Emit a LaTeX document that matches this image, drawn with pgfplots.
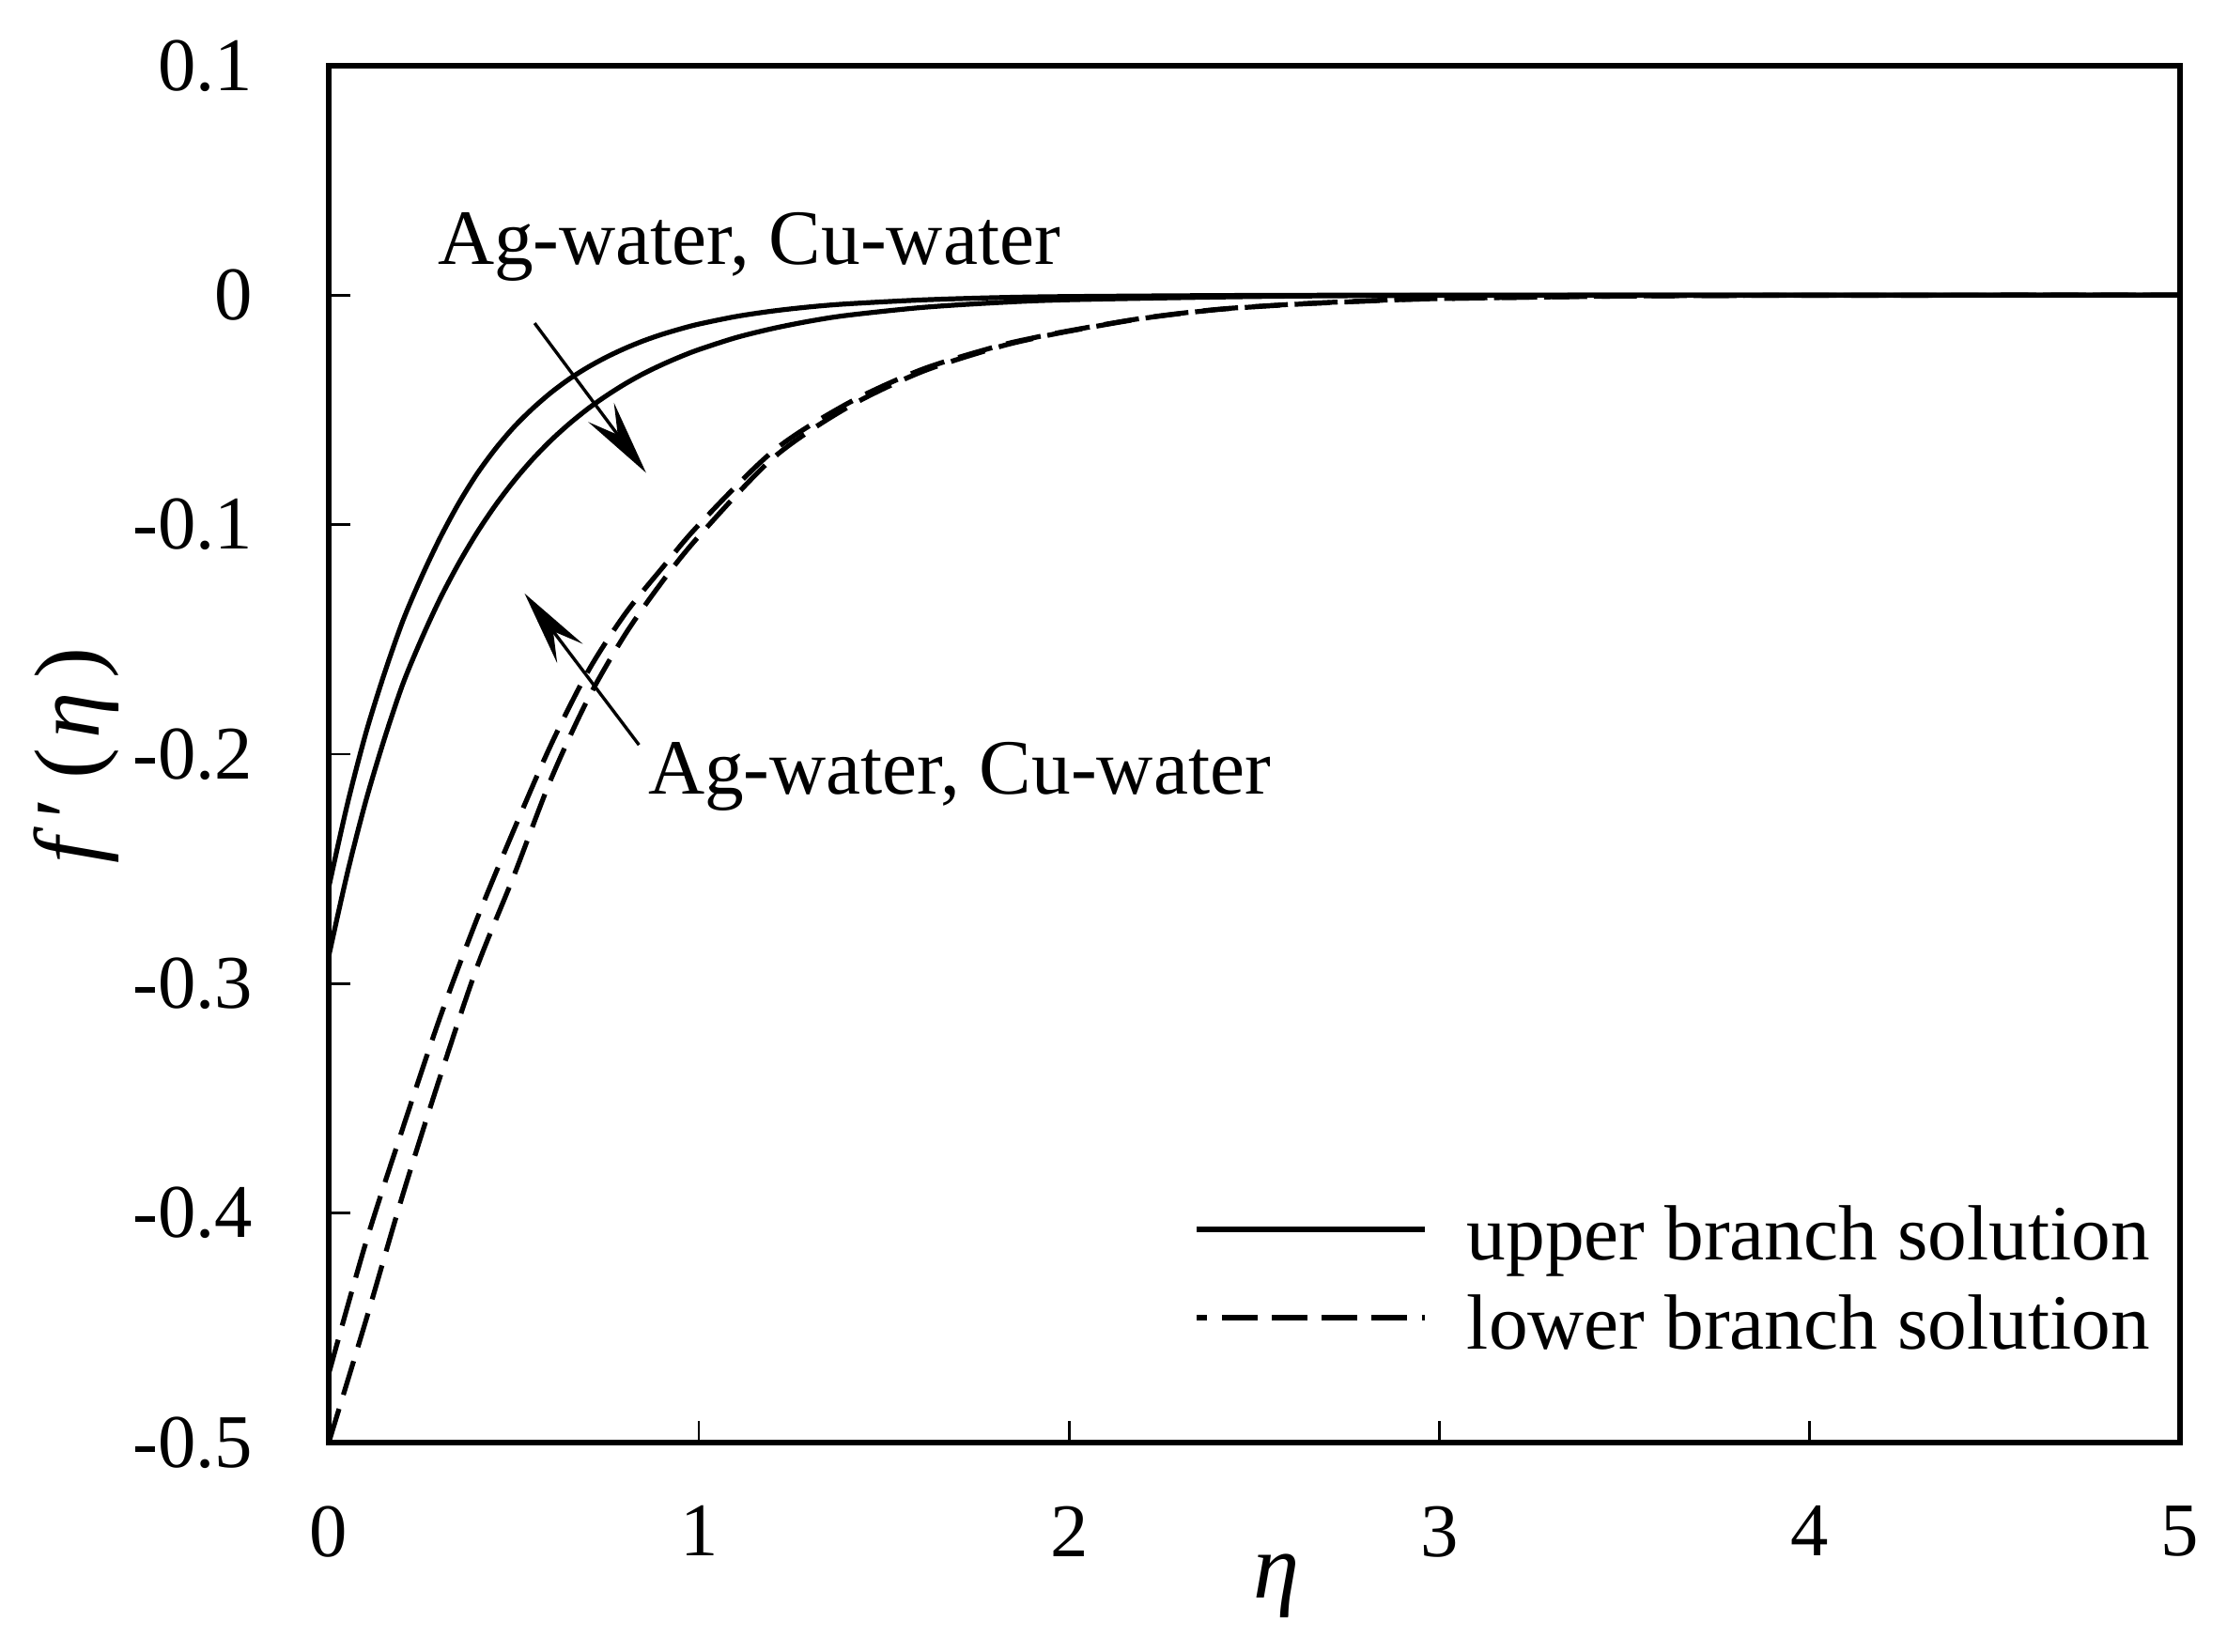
\documentclass[border=0pt]{standalone}
\usepackage{fontspec}
\setmainfont{Liberation Serif}
\usepackage{pgfplots}
\usepackage{pgfplotstable}
\pgfplotsset{compat=1.18}
\usetikzlibrary{arrows.meta}

% upper branch, first nanofluid
\pgfplotstableread{
eta f
0    -0.258
0.05 -0.222
0.10 -0.191
0.15 -0.165
0.20 -0.142
0.25 -0.123
0.30 -0.106
0.35 -0.091
0.40 -0.078
0.45 -0.067
0.50 -0.0575
0.55 -0.0495
0.60 -0.0425
0.65 -0.0365
0.70 -0.0314
0.75 -0.0270
0.80 -0.0232
0.85 -0.0199
0.90 -0.0171
0.95 -0.0147
1.00 -0.0126
1.1  -0.0093
1.2  -0.0069
1.3  -0.0051
1.4  -0.0038
1.6  -0.0021
1.8  -0.0011
2.0  -0.0006
2.5  -0.0001
3.0  0
4.0  0
5.0  0
}\upperA

% upper branch, second nanofluid
\pgfplotstableread{
eta f
0    -0.288
0.05 -0.252
0.10 -0.2205
0.15 -0.1935
0.20 -0.1695
0.25 -0.150
0.30 -0.1325
0.35 -0.1172
0.40 -0.1036
0.45 -0.0916
0.50 -0.0810
0.55 -0.0716
0.60 -0.0633
0.65 -0.0560
0.70 -0.0495
0.75 -0.0438
0.80 -0.0387
0.85 -0.0342
0.90 -0.0303
0.95 -0.0268
1.00 -0.0237
1.1  -0.0185
1.2  -0.0145
1.3  -0.0113
1.4  -0.0088
1.6  -0.0054
1.8  -0.0033
2.0  -0.0020
2.5  -0.0006
3.0  -0.0001
4.0  0
5.0  0
}\upperB

% lower branch, first nanofluid
\pgfplotstableread{
eta f
0    -0.470
0.1  -0.413
0.2  -0.363
0.3  -0.315
0.4  -0.272
0.5  -0.233
0.6  -0.196
0.7  -0.164
0.8  -0.139
0.9  -0.119
1.0  -0.100
1.2  -0.068
1.4  -0.0473
1.6  -0.0325
1.8  -0.0225
1.9  -0.0187
2.0  -0.0155
2.2  -0.0100
2.4  -0.0062
2.6  -0.0040
2.8  -0.0025
3.0  -0.0015
3.5  -0.0004
4.0  -0.0001
5.0  0
}\lowerA

% lower branch, second nanofluid
\pgfplotstableread{
eta f
0    -0.500
0.1  -0.447
0.2  -0.392
0.3  -0.341
0.4  -0.293
0.5  -0.253
0.6  -0.211
0.7  -0.176
0.8  -0.148
0.9  -0.125
1.0  -0.105
1.2  -0.071
1.4  -0.049
1.6  -0.0335
1.8  -0.0230
1.9  -0.0190
2.0  -0.0157
2.2  -0.0101
2.4  -0.0063
2.6  -0.0041
2.8  -0.0026
3.0  -0.0015
3.5  -0.0004
4.0  -0.0001
5.0  0
}\lowerB

\begin{document}
\begin{tikzpicture}[font=\fontsize{16}{19}\selectfont]
\useasboundingbox (-2.362,-1.505) rectangle (13.638,10.365);
\begin{axis}[
    at={(0,0)}, anchor=south west,
    scale only axis,
    width=13.30cm, height=9.893cm,
    xmin=0, xmax=5, ymin=-0.5, ymax=0.1,
    xtick={0,1,2,3,4,5},
    xticklabels={0,1,2,3,4,5},
    ytick={-0.5,-0.4,-0.3,-0.2,-0.1,0,0.1},
    yticklabels={-0.5,-0.4,-0.3,-0.2,-0.1,0,0.1},
    xtick pos=bottom, ytick pos=left,
    tick align=inside,
    major tick length=0.155cm,
    every tick/.style={black, line width=0.5pt},
    axis line style={line width=1pt},
    ticklabel style={font=\fontsize{15.5}{18}\selectfont, inner sep=0pt},
    xticklabel style={yshift=-0.45cm},
    yticklabel style={xshift=-0.54cm},
    clip=false,
  ]
  \addplot[black, line width=1pt, smooth] table[x=eta, y=f] {\upperA};
  \addplot[black, line width=1pt, smooth] table[x=eta, y=f] {\upperB};
  \addplot[black, line width=1pt, smooth, dash pattern=on 7.2pt off 3pt] table[x=eta, y=f] {\lowerA};
  \addplot[black, line width=1pt, smooth, dash pattern=on 7.2pt off 3pt] table[x=eta, y=f] {\lowerB};

  % annotations
  \draw[line width=0.65pt, -{Stealth[length=5.4mm, width=2.3mm, inset=2mm]}]
    (axis cs:0.556,-0.0122) -- (axis cs:0.857,-0.0774);
  \draw[line width=0.65pt, -{Stealth[length=5.4mm, width=2.3mm, inset=2mm]}]
    (axis cs:0.838,-0.196) -- (axis cs:0.529,-0.130);
  \node[anchor=base west, inner sep=0pt] at (axis cs:0.2917,0.0136) {Ag-water, Cu-water};
  \node[anchor=base west, inner sep=0pt] at (axis cs:0.860,-0.2176) {Ag-water, Cu-water};

  % legend
  \draw[line width=1pt] (rel axis cs:0.4688,0.1548) -- (rel axis cs:0.5921,0.1548);
  \draw[line width=1pt, dash pattern=on 7.2pt off 3pt, dash phase=5pt]
    (rel axis cs:0.4688,0.0907) -- (rel axis cs:0.5921,0.0907);
  \node[anchor=base west, inner sep=0pt] at (rel axis cs:0.6144,0.1325) {upper branch solution};
  \node[anchor=base west, inner sep=0pt] at (rel axis cs:0.6144,0.0677) {lower branch solution};

  % axis labels
  \node[anchor=base, inner sep=0pt, font=\fontsize{19}{22}\selectfont]
    at (rel axis cs:0.512,0) [yshift=-1.12cm] {\textit{η}};
  \node[rotate=90, inner sep=0pt, font=\fontsize{19}{22}\selectfont]
    at (axis cs:-0.682,-0.2008)
    {\textit{f}\hspace{0.1em}′\hspace{0.2em}(\hspace{0.1em}\textit{η}\hspace{0.15em})};
\end{axis}
\end{tikzpicture}
\end{document}
